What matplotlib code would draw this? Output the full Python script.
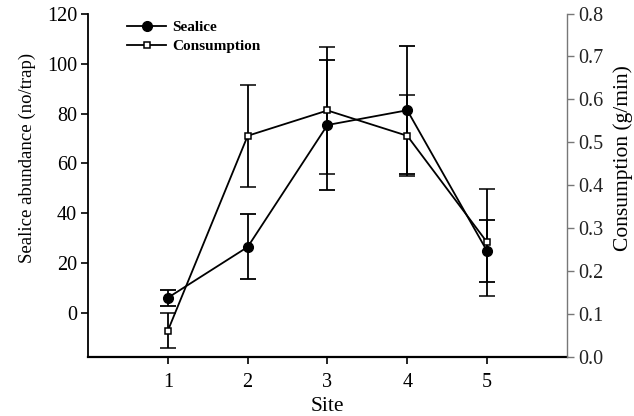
import matplotlib
matplotlib.use("Agg")
import matplotlib.pyplot as plt
from matplotlib.lines import Line2D

sites = [1, 2, 3, 4, 5]
sealice = [6.3, 26.6, 75.4, 81.3, 25.0]
sealice_err = [3.2, 13.0, 26.0, 25.7, 12.4]
consumption = [0.061, 0.515, 0.574, 0.515, 0.267]
consumption_err = [0.04, 0.119, 0.148, 0.094, 0.125]
left_ticks = [0, 20, 40, 60, 80, 100, 120]
right_ticks = [0.0, 0.1, 0.2, 0.3, 0.4, 0.5, 0.6, 0.7, 0.8]

plt.rcParams['font.family'] = ['Liberation Serif', 'DejaVu Serif']

fig = plt.figure(figsize=(6.34, 4.16), dpi=100)
ax = fig.add_axes([0.139, 0.1425, 0.755, 0.825])
ax2 = ax.twinx()

ax.errorbar(sites, sealice, yerr=sealice_err, color='black', marker='o',
            markersize=7, linewidth=1.3, capsize=6, elinewidth=1.3,
            capthick=1.3)
ax2.errorbar(sites, consumption, yerr=consumption_err, color='black', marker='s',
             markersize=5, markerfacecolor='white', markeredgewidth=1.1,
             linewidth=1.3, capsize=6, elinewidth=1.3, capthick=1.3)

ax.set_xlim(0, 6)
ax.set_ylim(-17.3, 120)
ax2.set_ylim(0, 0.8)
ax.set_xticks(sites)
ax.set_yticks(left_ticks)
ax2.set_yticks(right_ticks)
ax2.set_yticklabels([f"{t:.1f}" for t in right_ticks])

for a in (ax, ax2):
    a.spines['top'].set_visible(False)
ax.spines['right'].set_visible(False)
ax2.spines['left'].set_visible(False)
ax2.spines['bottom'].set_visible(False)
ax.spines['left'].set_linewidth(1.3)
ax.spines['bottom'].set_linewidth(1.6)
ax2.spines['right'].set_color('#777777')
ax2.spines['right'].set_linewidth(1.0)

ax.tick_params(axis='y', direction='out', length=5, width=1.2, labelsize=14.5, colors='black', pad=3)
ax.tick_params(axis='x', direction='out', length=5, width=1.2, labelsize=14.5, colors='black', pad=7)
ax2.tick_params(axis='y', direction='out', length=5, width=1.0, labelsize=14.5, color='#777777', labelcolor='#222222', pad=3)

ax.set_xlabel('Site', fontsize=15.5, labelpad=3)
ax.set_ylabel('Sealice abundance (no/trap)', fontsize=13.5)
ax2.set_ylabel('Consumption (g/min)', fontsize=15.5)
ax.yaxis.set_label_coords(-0.108, 0.579)
ax2.yaxis.set_label_coords(1.097, 0.579)

h1 = Line2D([], [], color='black', marker='o', markersize=7, linewidth=1.3)
h2 = Line2D([], [], color='black', marker='s', markersize=5, markerfacecolor='white',
            markeredgewidth=1.1, linewidth=1.3)
ax2.legend([h1, h2], ['Sealice', 'Consumption'], loc='upper left',
           bbox_to_anchor=(0.052, 1.02), frameon=False,
           prop={'weight': 'bold', 'size': 11}, handlelength=2.6,
           handletextpad=0.4, labelspacing=0.35)

fig.savefig('out.png', dpi=100)
